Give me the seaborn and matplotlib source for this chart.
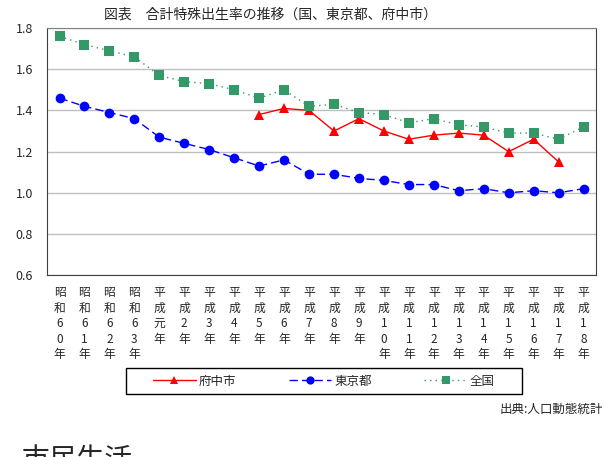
import numpy as np
import pandas as pd
import seaborn as sns
import matplotlib.pyplot as plt
from matplotlib.patches import Rectangle

# x categories (vertical labels, one char per line)
years = ["昭和60年", "昭和61年", "昭和62年", "昭和63年",
         "平成元年", "平成2年", "平成3年", "平成4年", "平成5年", "平成6年",
         "平成7年", "平成8年", "平成9年", "平成10年", "平成11年", "平成12年",
         "平成13年", "平成14年", "平成15年", "平成16年", "平成17年", "平成18年"]

fuchu = [None, None, None, None, None, None, None, None,
         1.38, 1.41, 1.40, 1.30, 1.36, 1.30, 1.26, 1.28,
         1.29, 1.28, 1.20, 1.26, 1.15, None]
tokyo = [1.46, 1.42, 1.39, 1.36, 1.27, 1.24, 1.21, 1.17, 1.13, 1.16, 1.09,
         1.09, 1.07, 1.06, 1.04, 1.04, 1.01, 1.02, 1.00, 1.01, 1.00, 1.02]
national = [1.76, 1.72, 1.69, 1.66, 1.57, 1.54, 1.53, 1.50, 1.46, 1.50, 1.42,
            1.43, 1.39, 1.38, 1.34, 1.36, 1.33, 1.32, 1.29, 1.29, 1.26, 1.32]

series_names = ["府中市", "東京都", "全国"]

rows = []
for name, vals in zip(series_names, [fuchu, tokyo, national]):
    for i, v in enumerate(vals):
        if v is not None:
            rows.append({"pos": i, "rate": v, "series": name})
df = pd.DataFrame(rows)

sns.set_style("white")
plt.rcParams['font.family'] = ['Noto Sans CJK JP', 'DejaVu Sans']

fig = plt.figure(figsize=(6.06, 4.57), dpi=100)
ax = fig.add_axes([0.0776, 0.398, 0.9059, 0.5405])

ax.yaxis.grid(True, color='#c0c0c0', lw=1)
ax.set_axisbelow(True)

sns.lineplot(data=df, x='pos', y='rate', hue='series', style='series',
             hue_order=series_names, style_order=series_names,
             palette={"府中市": "#ff0000", "東京都": "#0000ff", "全国": "#339966"},
             markers={"府中市": "^", "東京都": "o", "全国": "s"},
             dashes={"府中市": "", "東京都": (6, 3), "全国": (1, 3)},
             markersize=7, markeredgewidth=0, linewidth=1, ax=ax)

ax.set_xlim(-0.5, len(years) - 0.5)
ax.set_ylim(0.6, 1.8)
ax.set_yticks(np.arange(0.6, 1.81, 0.2))
ax.set_yticklabels([f"{v:.1f}" for v in np.arange(0.6, 1.81, 0.2)], fontsize=9)
ax.tick_params(axis='y', length=0, pad=10)

ax.set_xticks(range(len(years)))
ax.set_xticklabels(["\n".join(y) for y in years], fontsize=8.5, linespacing=1.25,
                   va='top')
ax.tick_params(axis='x', which='major', length=0, pad=8)
ax.set_xticks(np.arange(0.5, len(years) - 1, 1), minor=True)
ax.tick_params(axis='x', which='minor', direction='in', length=4, color='#404040')
ax.set_xlabel('')
ax.set_ylabel('')

for s in ['left', 'bottom', 'right']:
    ax.spines[s].set_color('#404040')
ax.spines['top'].set_color('#808080')

# legend without frame, box drawn separately
handles, labels = ax.get_legend_handles_labels()
ax.legend(handles, labels, loc='center', bbox_to_anchor=(324 / 606, 1 - 381 / 457),
          bbox_transform=fig.transFigure, ncol=3, fontsize=9, frameon=False,
          handlelength=3.4, handletextpad=0.25, columnspacing=4.2, markerscale=0.85)
fig.patches.append(Rectangle((126 / 606, 1 - 394 / 457), 396 / 606, 26 / 457,
                             transform=fig.transFigure, fill=False,
                             edgecolor='black', lw=1))

fig.text(0.446, 0.969, "図表　合計特殊出生率の推移（国、東京都、府中市）",
         ha='center', va='center', fontsize=10)
fig.text(0.995, 0.105, "出典:人口動態統計", ha='right', va='center', fontsize=9)
fig.text(0.036, 0.026, "市民生活", ha='left', va='top', fontsize=20)

fig.savefig("out.png", dpi=100)
